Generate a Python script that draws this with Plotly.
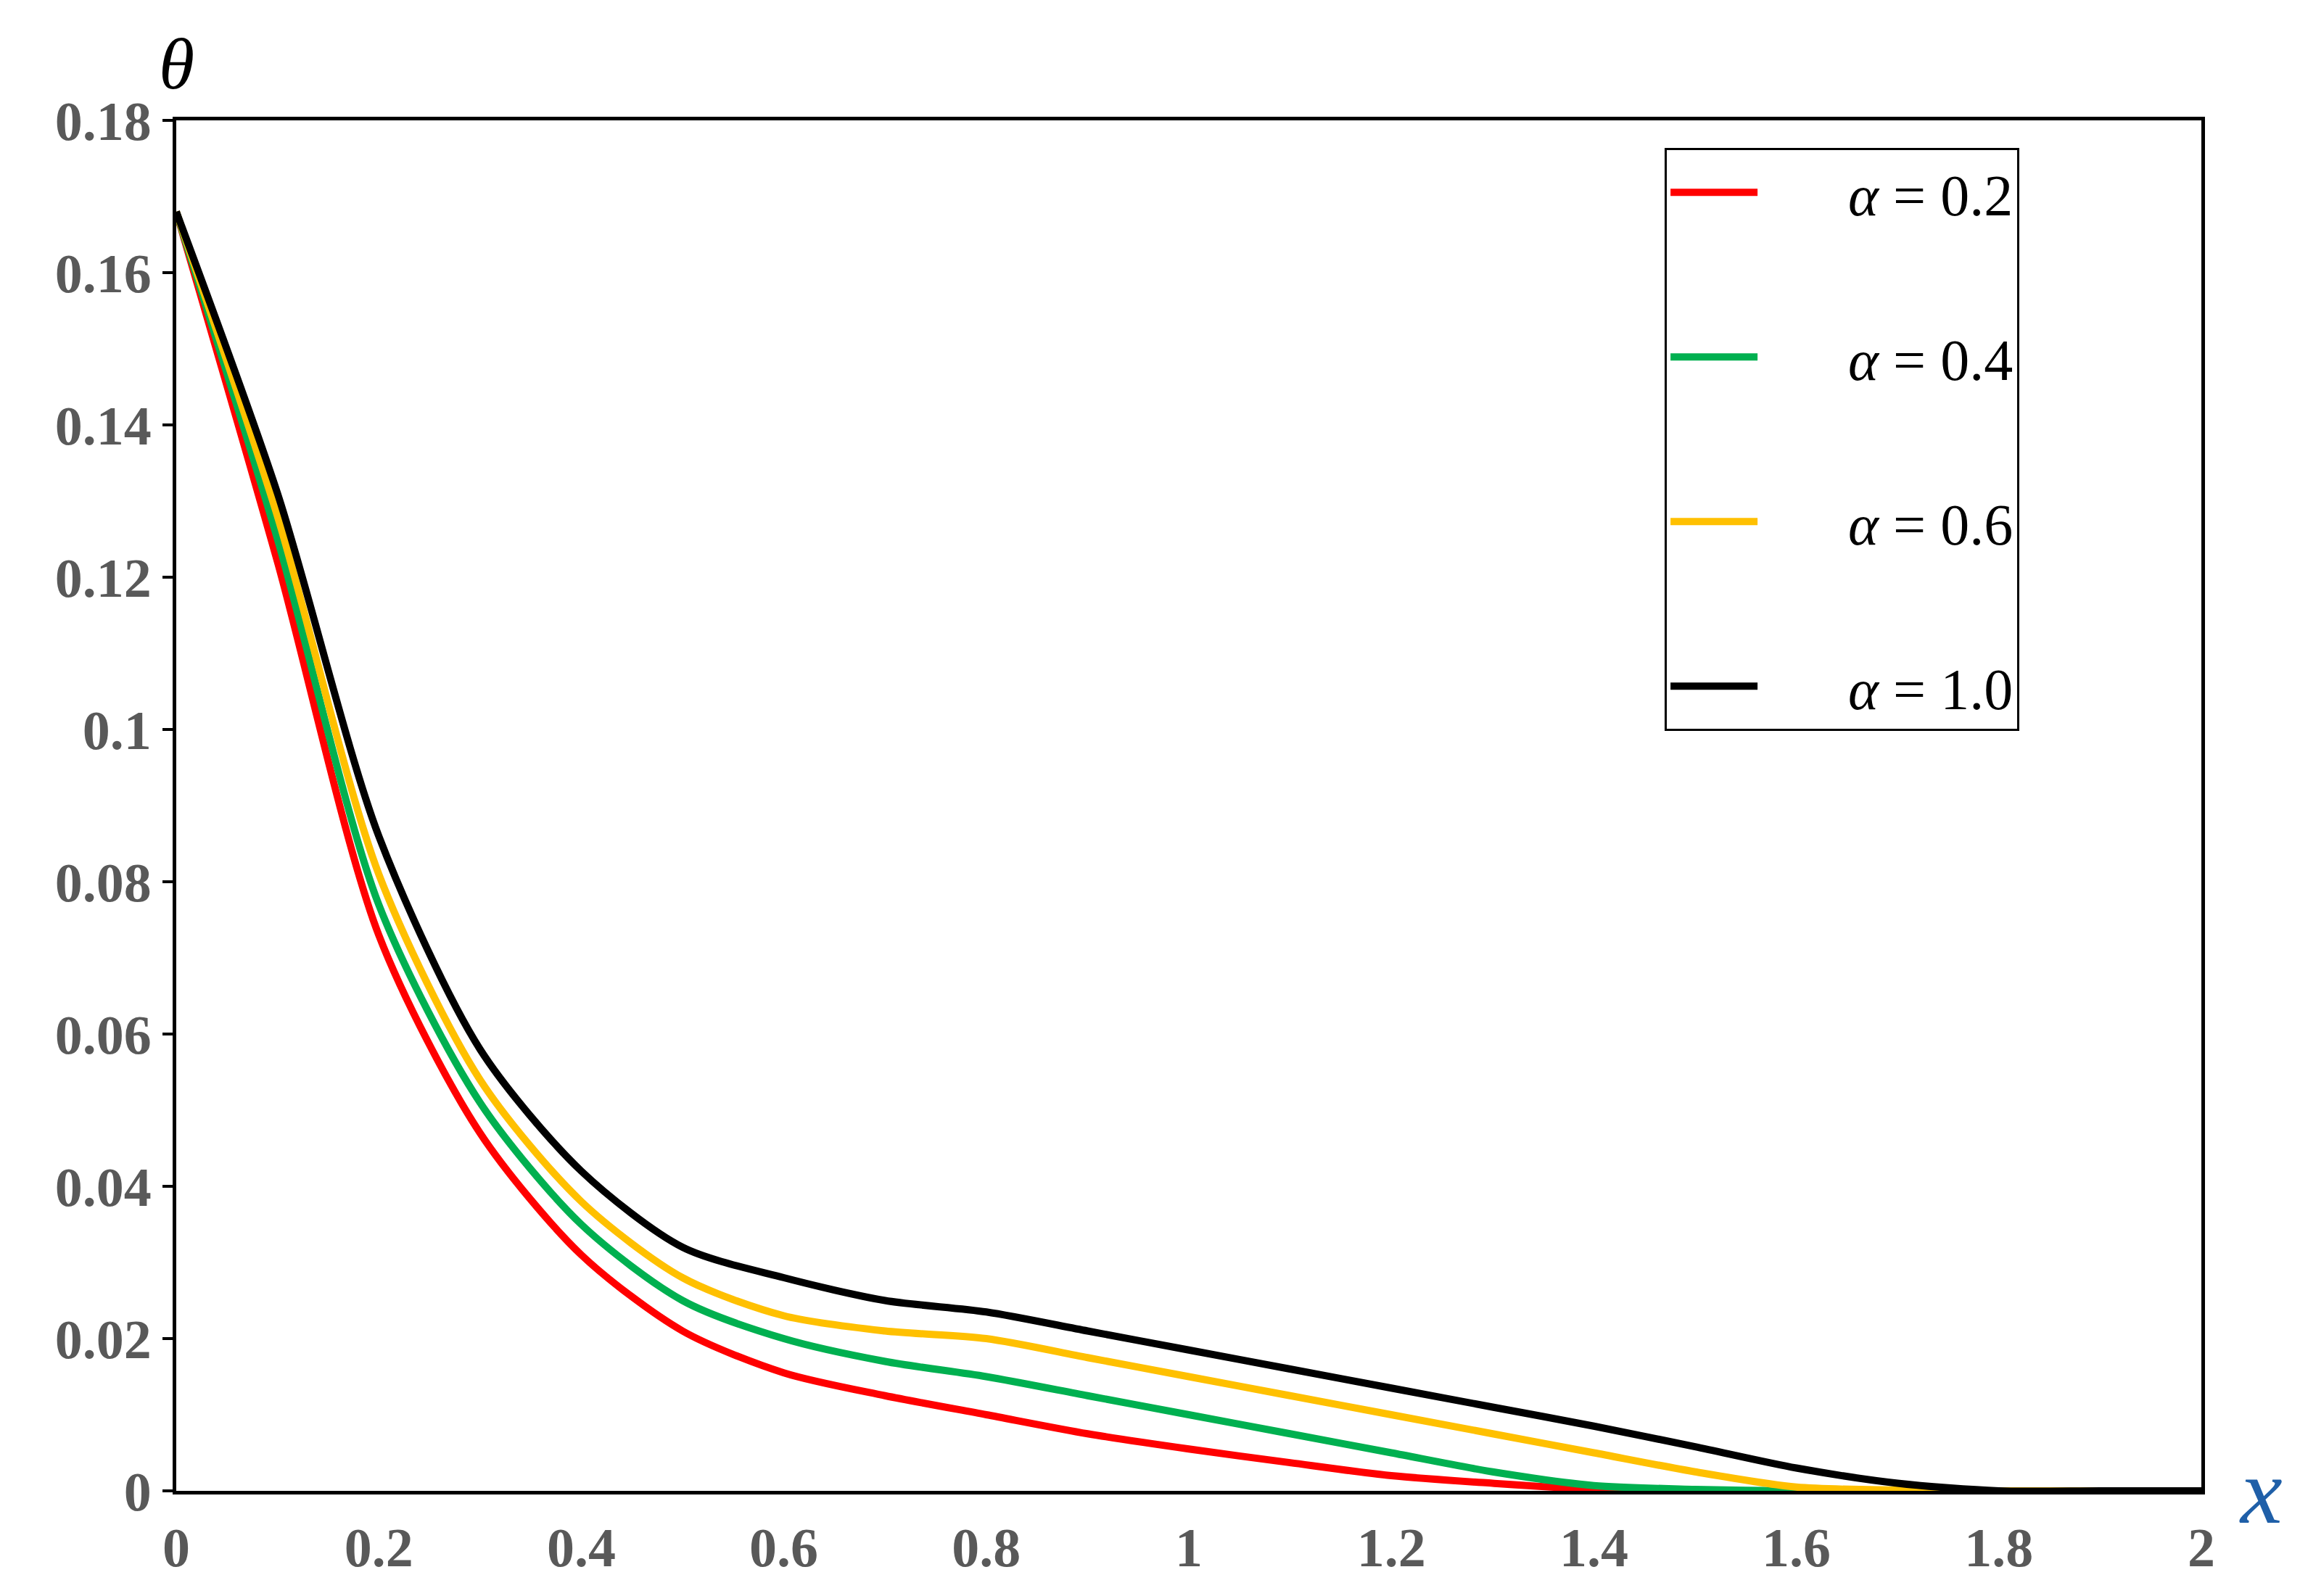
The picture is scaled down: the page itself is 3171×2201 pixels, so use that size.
import plotly.graph_objects as go

x = [0,0.1,0.2,0.3,0.4,0.5,0.6,0.7,0.8,0.9,1.0,1.1,1.2,1.3,1.4,1.5,1.6,1.7,1.8,1.9,2.0]
red = [0.168,0.122,0.073,0.047,0.031,0.021,0.0155,0.0125,0.010,0.0075,0.0055,0.0037,0.002,0.001,0.0002,0,0,0,0,0,0]
green = [0.168,0.125,0.077,0.051,0.035,0.025,0.020,0.017,0.015,0.0125,0.010,0.0075,0.005,0.0025,0.0007,0.0002,0,0,0,0,0]
yellow = [0.168,0.128,0.081,0.054,0.038,0.028,0.023,0.021,0.020,0.0175,0.015,0.0125,0.010,0.0075,0.005,0.0025,0.0005,0.0001,0,0,0]
black = [0.168,0.131,0.086,0.058,0.042,0.032,0.028,0.025,0.0235,0.021,0.0185,0.016,0.0135,0.011,0.0085,0.0058,0.003,0.001,0,0,0]
names = ["<i>α</i> = 0.2","<i>α</i> = 0.4","<i>α</i> = 0.6","<i>α</i> = 1.0"]
colors = ["#ff0000","#00b050","#ffc000","#000000"]
xticks = [0,0.2,0.4,0.6,0.8,1,1.2,1.4,1.6,1.8,2]
yticks = [0,0.02,0.04,0.06,0.08,0.1,0.12,0.14,0.16,0.18]

fig = go.Figure()
for i,(ys,n,c) in enumerate(zip([red,green,yellow,black],names,colors)):
    fig.add_trace(go.Scatter(x=x,y=ys,name="      "+n,mode="lines",
                             line=dict(color=c,width=10,shape="spline",smoothing=0.8),legendgroup=str(i)))

tickfont = dict(family="Liberation Serif",size=76,color="#595959",weight="bold")
fig.update_layout(
    width=3171,height=2201,plot_bgcolor="white",paper_bgcolor="white",
    margin=dict(l=235,r=144,t=158,b=153),
    xaxis=dict(range=[0,2],tickvals=xticks,ticktext=[f"{v:g}" for v in xticks],tickfont=tickfont,
               showgrid=False,zeroline=False,showline=True,linecolor="black",linewidth=5,mirror=True,
               ticks="outside",ticklen=8,tickcolor="white"),
    yaxis=dict(range=[0,0.18],tickvals=yticks,ticktext=[f"{v:g}" for v in yticks],tickfont=tickfont,
               showgrid=False,zeroline=False,showline=True,linecolor="black",linewidth=5,mirror=True,
               ticks="outside",ticklen=14,tickcolor="black",tickwidth=4),
    legend=dict(x=0.735,y=0.98,xanchor="left",yanchor="top",bordercolor="black",borderwidth=3,
                font=dict(family="Liberation Serif",size=80,color="black"),tracegroupgap=120,
                bgcolor="white",itemwidth=120),
    annotations=[
        dict(text="<i>θ</i>",xref="paper",yref="paper",x=0.0,y=1.0,xanchor="center",yanchor="bottom",
             showarrow=False,font=dict(family="Liberation Serif",size=100,color="black"),yshift=20),
        dict(text="<i>x</i>",xref="paper",yref="paper",x=1.0,y=0.0,xanchor="left",yanchor="middle",
             showarrow=False,font=dict(family="Liberation Serif",size=130,color="#1f5fa8"),xshift=50),
    ],
)
fig.write_html("out.html")
